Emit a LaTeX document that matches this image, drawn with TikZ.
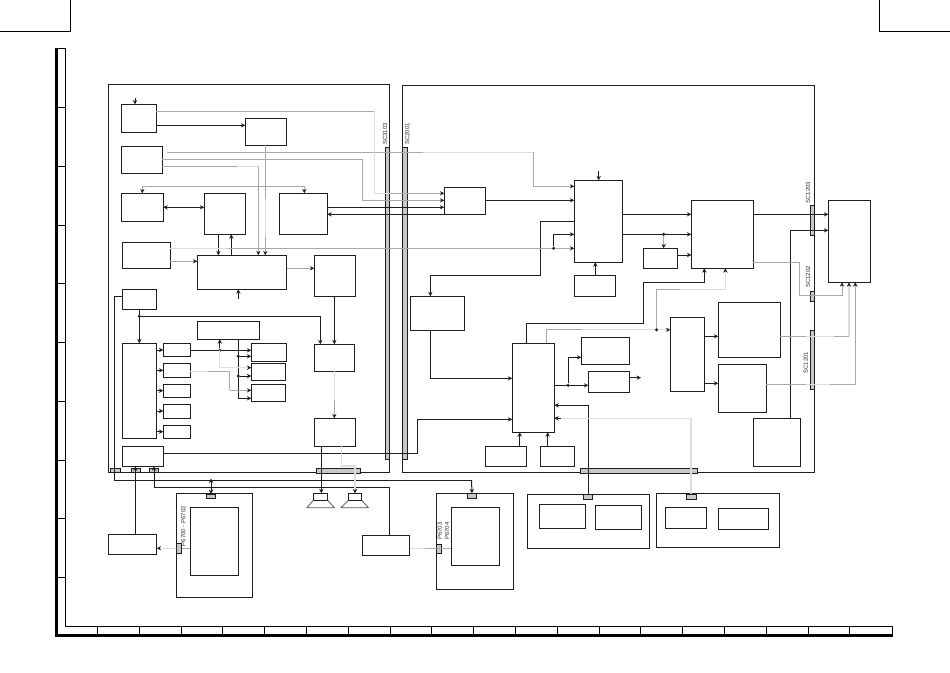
\documentclass[tikz,border=0pt]{standalone}
\usepackage{fontspec}
\setsansfont{Liberation Sans}
\usetikzlibrary{arrows.meta, positioning}
\definecolor{inkc}{HTML}{1E1E1E}
\definecolor{grayc}{HTML}{A8A8A8}
\definecolor{palec}{HTML}{DEDEDE}
\definecolor{tabc}{HTML}{C8C8C8}
\tikzset{
	blk/.style={draw=inkc, line width=1pt, inner sep=0pt, outer sep=0pt},
	tabbox/.style={blk, fill=tabc},
	jdot/.style={circle, fill=inkc, inner sep=0pt, minimum size=3.4pt},
	wire/.style={draw=inkc, line width=1pt},
	gwire/.style={draw=grayc, line width=1pt},
	pwire/.style={draw=palec, line width=1.2pt},
	tip/.style={-{Stealth[length=4.4pt,width=4.4pt,inkc]}},
	both/.style={{Stealth[length=4.4pt,width=4.4pt,inkc]}-{Stealth[length=4.4pt,width=4.4pt,inkc]}},
	sclabel/.style={rotate=90, text=black!80, inner sep=0pt, font=\sffamily\fontsize{6}{6}\selectfont}
}
% box by its two corners: name, x0, y0, x1, y1
\newcommand{\blkbox}[6][blk]{\node[#1, minimum width={(#5-#3)*1pt}, minimum height={(#6-#4)*1pt}] (#2) at ({(#3+#5)/2},{(#4+#6)/2}) {};}
\begin{document}
\begin{tikzpicture}[x=1pt,y=-1pt]
	\useasboundingbox (0,0) rectangle (950,672);
	
	% page corners and frame
	\draw[line width=0.9pt] (0,31.5) -- (70.5,31.5) -- (70.5,0);
	\draw[line width=0.9pt] (950,31.5) -- (879.3,31.5) -- (879.3,0);
	\fill (55,48) rectangle (58,636.8);
	\fill (55,634) rectangle (892.5,636.8);
	\draw[line width=0.8pt] (58,48) -- (65.7,48) -- (65.7,626.3) -- (892.5,626.3) -- (892.5,636);
	\foreach \y in {107.3,166,225,283.4,342,401,460,518.4,577}
		\draw[line width=0.8pt] (58,\y) -- (65.7,\y);
	\foreach \i in {0,...,18}
		\draw[line width=0.8pt] ({97.3+41.8*\i},626.3) -- ({97.3+41.8*\i},636);
	
	% two main boards
	\blkbox{lboard}{108.4}{84.5}{389.5}{472.2}
	\blkbox{rboard}{402.3}{85.3}{814.2}{472.3}
	
	% board connectors
	\blkbox[tabbox]{sc3103}{385.3}{147.3}{389.5}{459}
	\blkbox[tabbox]{sc2001}{402.3}{147.3}{407.3}{459.3}
	\blkbox[tabbox]{tabA}{110.3}{468.3}{120.3}{472.2}
	\blkbox[tabbox]{tabB}{131.3}{468.3}{140.7}{472.2}
	\blkbox[tabbox]{tabC}{149.3}{468.3}{158.3}{472.2}
	\blkbox[tabbox]{tabD}{316.3}{468.3}{360.3}{473.3}
	\blkbox[tabbox]{tabE}{580.3}{468.7}{697.3}{473.3}
	\blkbox[tabbox]{sc1203}{810.3}{205.3}{814.2}{235.3}
	\blkbox[tabbox]{sc1202}{810.3}{291.3}{814.2}{301.3}
	\blkbox[tabbox]{sc1201}{810.3}{330.3}{814.2}{389.3}
	
	\node[sclabel] at (385,134) {SC3103};
	\node[sclabel] at (407.3,134) {SC2001};
	\node[sclabel] at (808,192.5) {SC1203};
	\node[sclabel] at (808,277) {SC1202};
	\node[sclabel] at (805.7,362.7) {SC1201};
	
	% left board blocks
	\blkbox{inA}{121.3}{104.3}{156.3}{132.3}
	\blkbox{inB}{245.3}{118.3}{286.7}{145.3}
	\blkbox{inC}{121.3}{146.3}{162.3}{173.3}
	\blkbox{inD}{121.3}{193.3}{163.3}{221.3}
	\blkbox{inE}{204.3}{193.3}{245.3}{234.3}
	\blkbox{inF}{279.3}{193.3}{327.3}{234.3}
	\blkbox{inG}{122.3}{242.3}{170.3}{268.3}
	\blkbox{midA}{197.3}{255.3}{286.7}{289.3}
	\blkbox{midB}{314.3}{255.3}{355.3}{296.3}
	\blkbox{ctlA}{122.3}{289.3}{156.3}{309.3}
	\blkbox{ctlB}{122.3}{343.3}{156.3}{438.3}
	\blkbox{slotA}{163.3}{343.7}{190.3}{356.3}
	\blkbox{slotB}{163.3}{363.3}{190.3}{377.3}
	\blkbox{slotC}{163.3}{384.3}{190.3}{397.7}
	\blkbox{slotD}{163.3}{404.3}{190.3}{418.3}
	\blkbox{slotE}{163.3}{425.3}{190.3}{438.3}
	\blkbox{topbar}{197.3}{321.3}{259.3}{339.3}
	\blkbox{memA}{251.3}{343.7}{286.3}{361.3}
	\blkbox{memB}{251.3}{363.3}{285.3}{380.3}
	\blkbox{memC}{251.3}{384.3}{285.3}{401.3}
	\blkbox{ampA}{314.3}{344.3}{354.3}{371.3}
	\blkbox{ampB}{314.3}{418.3}{355.3}{446.3}
	\blkbox{pwrA}{122.3}{446.7}{163.3}{466.3}
	
	% right board blocks
	\blkbox{brg}{444.3}{187.3}{485.3}{214.3}
	\blkbox{mainA}{574.3}{180.3}{622.3}{262.3}
	\blkbox{mainB}{574.3}{275.3}{615.3}{296.3}
	\blkbox{procA}{691.3}{200.3}{753.3}{268.3}
	\blkbox{procB}{643.3}{248.3}{677.3}{268.3}
	\blkbox{outA}{828.3}{200.3}{870.3}{282.3}
	\blkbox{decA}{410.3}{296.3}{464.3}{330.3}
	\blkbox{decB}{512.3}{343.3}{554.3}{432.3}
	\blkbox{ramA}{581.3}{337.3}{629.3}{364.3}
	\blkbox{ramB}{588.3}{371.3}{629.3}{392.3}
	\blkbox{subA}{485.3}{446.3}{526.3}{466.3}
	\blkbox{subB}{540.3}{446.3}{574.3}{466.3}
	\blkbox{muxA}{670.3}{317.3}{704.7}{391.3}
	\blkbox{outB}{718.3}{302.3}{780.3}{357.3}
	\blkbox{outC}{718.3}{364.3}{766.3}{412.3}
	\blkbox{pwrB}{753.3}{418.3}{800.3}{466.3}
	
	% bottom units
	\blkbox{unitA}{108.3}{534.3}{156.7}{554.3}
	\blkbox{cardA}{176.3}{493.3}{252.7}{597.3}
	\blkbox{cardAin}{190.3}{507.3}{238.3}{575.3}
	\blkbox[tabbox]{cardAt}{206.3}{494}{215.7}{498.3}
	\blkbox[tabbox]{cardAs}{176.3}{543.3}{181.7}{553.3}
	\blkbox{unitB}{362.3}{535.3}{409.7}{555.3}
	\blkbox{cardB}{436.3}{493.3}{513.7}{589.3}
	\blkbox{cardBin}{451.3}{507.3}{499.7}{565.7}
	\blkbox[tabbox]{cardBt}{467.3}{493.3}{476.7}{498.3}
	\blkbox[tabbox]{cardBs}{436.3}{544.3}{441.7}{553.7}
	\blkbox{cardC}{527.3}{494.3}{649.7}{548.7}
	\blkbox{cardCa}{539.3}{504.3}{585.7}{528.3}
	\blkbox{cardCb}{595.3}{505.3}{641.7}{529.3}
	\blkbox[tabbox]{cardCt}{583.3}{494.3}{592.7}{499.3}
	\blkbox{cardD}{656.3}{493.3}{779.7}{547.7}
	\blkbox{cardDa}{665.3}{507.3}{706.3}{528.3}
	\blkbox{cardDb}{718.3}{508.3}{768.7}{529.3}
	\blkbox[tabbox]{cardDt}{686.3}{494.3}{696.3}{499.3}
	\node[sclabel] at (183.3,526) {P6700 - P6702};
	\node[sclabel] at (439.7,531) {P6703};
	\node[sclabel] at (447,531) {P6704};
	
	% speakers
	\blkbox{spkA}{313.3}{493.3}{327.7}{500.3}
	\blkbox{spkB}{348.3}{493.3}{361.7}{500.3}
	\draw[black!65, line width=0.8pt] (spkA.south west) -- (307,507.7) -- (334.3,507.7) -- (spkA.south east);
	\draw[black!65, line width=0.8pt] (spkB.south west) -- (341,507.7) -- (368.3,507.7) -- (spkB.south east);
	
	% junctions and free ends
	\node[jdot] (jctl) at (139.3,316.3) {};
	\node[jdot] (jbar) at (219.8,350.3) {};
	\node[jdot] (jmemA) at (238.3,356.3) {};
	\node[jdot] (jmemB) at (238.3,376) {};
	\node[jdot] (jmain) at (553.7,248.3) {};
	\node[jdot] (jproc) at (663.7,234.3) {};
	\node[jdot] (jmux) at (656.5,329.8) {};
	\node[jdot] (jram) at (568,385.3) {};
	\coordinate (inAin) at (135,98);
	\coordinate (midAin) at (238.3,299);
	\coordinate (mainAin) at (598.7,171);
	\coordinate (ramBout) at (641,377.7);
	\coordinate (cardAup) at (211,478.5);
	
	% left board black wires
	\draw[wire, tip] (inAin) -- (inAin |- inA.north);
	\draw[wire, tip] (inA.east |- 0,125.3) -- (inB.west |- 0,125.3);
	\draw[wire, both] (inD.east |- 0,207.3) -- (inE.west |- 0,207.3);
	\draw[wire, tip] (218.3,234.3) -- (218.3,255.3);
	\draw[wire, tip] (231.3,255.3) -- (231.3,234.3);
	\draw[wire, tip] (midAin) -- (midAin |- midA.south);
	\draw[wire, tip] (334.3,296.3) -- (334.3,344.3);
	\draw[wire, tip] (ctlA.south -| jctl) -- (ctlB.north -| jctl);
	\draw[wire, tip] (jctl) -- (320.3,316.3) -- (320.3,344.3);
	\draw[wire] (ctlA.west |- 0,296.3) -- (114.3,296.3) -- (114.3,480.3) -- (471.5,480.3);
	\draw[wire, tip] (471.5,480.3) -- (cardBt.north);
	\draw[wire, both] (cardAup) -- (211,494);
	\foreach \yy/\nn in {350/slotA,370.3/slotB,390.7/slotC,411/slotD,431.7/slotE}
		\draw[wire, tip] (ctlB.east |- 0,\yy) -- (\nn.west |- 0,\yy);
	\draw[wire, tip] (slotA.east |- 0,350.3) -- (memA.west |- 0,350.3);
	\draw[wire, tip] (jbar) -- (jbar |- topbar.south);
	\draw[wire] (238.3,339.3) -- (238.3,398.3);
	\draw[wire, tip] (238.3,398.3) -- (memC.west |- 0,398.3);
	\draw[wire, tip] (jmemA) -- (memA.west |- jmemA);
	\draw[wire, tip] (jmemB) -- (memB.west |- jmemB);
	\draw[wire, tip] (321.3,446.3) -- (321.3,493.3);
	\draw[wire, tip] (135.3,534.3) -- (135.3,466.3);
	\draw[wire, tip] (154,487.7) -- (154,466.3);
	\draw[wire] (154,487.7) -- (389.3,487.7) -- (389.3,535.3);
	\draw[wire, tip] (pwrA.east |- 0,453.3) -- (417.3,453.3) -- (417.3,419.3) -- (decB.west |- 0,419.3);
	\draw[wire, tip] (inF.east |- 0,207.3) -- (brg.west |- 0,207.3);
	\draw[wire, tip] (brg.west |- 0,214.3) -- (inF.east |- 0,214.3);
	
	% right board black wires
	\draw[wire, tip] (brg.east |- 0,200.3) -- (mainA.west |- 0,200.3);
	\draw[wire, tip] (mainAin) -- (mainAin |- mainA.north);
	\draw[wire, tip] (mainA.west |- 0,221.3) -- (540.3,221.3) -- (540.3,275.7) -- (430.3,275.7) -- (430.3,296.3);
	\draw[wire, tip] (jmain) -- (553.7,234.3) -- (mainA.west |- 0,234.3);
	\draw[wire, tip] (595.3,275.3) -- (595.3,262.3);
	\draw[wire, tip] (mainA.east |- 0,214.3) -- (procA.west |- 0,214.3);
	\draw[wire, tip] (mainA.east |- 0,234.3) -- (procA.west |- 0,234.3);
	\draw[gwire, tip] (jproc) -- (jproc |- procB.north);
	\draw[wire, tip] (procB.east |- 0,255) -- (procA.west |- 0,255);
	\draw[wire, tip] (procA.east |- 0,214.3) -- (outA.west |- 0,214.3);
	\draw[wire, tip] (790.3,418.3) -- (790.3,230.3) -- (outA.west |- 0,230.3);
	\draw[wire, tip] (526.3,343.3) -- (526.3,323.3) -- (643.3,323.3) -- (643.3,282.3) -- (704.3,282.3) -- (704.3,268.3);
	\draw[wire, tip] (decA.south -| 430.3,0) -- (430.3,378.3) -- (decB.west |- 0,378.3);
	\draw[wire, tip] (decB.east |- 0,385.3) -- (ramB.west |- 0,385.3);
	\draw[wire, tip] (jram) -- (568,357.3) -- (ramA.west |- 0,357.3);
	\draw[wire, tip] (ramB.east |- ramBout) -- (ramBout);
	\draw[wire, tip] (588.3,494.3) -- (588.3,405.3) -- (decB.east |- 0,405.3);
	\draw[wire, tip] (519.7,446.3) -- (519.7,432.3);
	\draw[wire, tip] (547.7,446.3) -- (547.7,432.3);
	\draw[wire, tip] (muxA.east |- 0,336.3) -- (outB.west |- 0,336.3);
	\draw[wire, tip] (muxA.east |- 0,383.3) -- (outC.west |- 0,383.3);
	
	% grey and pale signal wires
	\draw[gwire] (167,152.3) -- (423,152.3);
	\draw[pwire] (423,152.3) -- (533.3,152.3);
	\draw[gwire, tip] (533.3,152.3) -- (533.3,186.3) -- (mainA.west |- 0,186.3);
	\draw[gwire] (inA.east |- 0,111.3) -- (374.7,111.3);
	\draw[pwire] (374.7,111.3) -- (374.7,193.3) -- (390,193.3);
	\draw[gwire, tip] (390,193.3) -- (brg.west |- 0,193.3);
	\draw[gwire, tip] (inC.east |- 0,159.3) -- (362.3,159.3) -- (362.3,200.3) -- (brg.west |- 0,200.3);
	\draw[gwire] (inC.east |- 0,166.3) -- (237,166.3);
	\draw[pwire] (237,166.3) -- (258.3,166.3);
	\draw[gwire, tip] (258.3,166.3) -- (258.3,255.3);
	\draw[gwire] (265.3,145.3) -- (265.3,199);
	\draw[pwire] (265.3,199) -- (265.3,237);
	\draw[gwire, tip] (265.3,237) -- (265.3,255.3);
	\draw[gwire, both] (142.3,193.3) -- (142.3,186.3) -- (304.3,186.3) -- (304.3,193.3);
	\draw[pwire] (inG.east |- 0,248.3) -- (228,248.3);
	\draw[gwire] (228,248.3) -- (jmain);
	\draw[gwire, tip] (jmain) -- (mainA.west |- 0,248.3);
	\draw[gwire, tip] (inG.east |- 0,261.3) -- (midA.west |- 0,261.3);
	\draw[gwire, tip] (midA.east |- 0,268.3) -- (midB.west |- 0,268.3);
	\draw[pwire] (219.3,350.3) -- (219.3,367.7);
	\draw[pwire, tip] (219.3,367.7) -- (memB.west |- 0,367.7);
	\draw[pwire] (slotB.east |- 0,371.7) -- (208,371.7);
	\draw[gwire] (208,371.7) -- (229.7,371.7) -- (229.7,390.3);
	\draw[gwire, tip] (229.7,390.3) -- (memC.west |- 0,390.3);
	\draw[pwire] (334.3,371.3) -- (334.3,400);
	\draw[gwire, tip] (334.3,400) -- (334.3,418.3);
	\draw[pwire] (341.7,446.3) -- (341.7,466) -- (355,466) -- (355,488);
	\draw[gwire, tip] (355,488) -- (355,493.3);
	\draw[pwire, tip] (cardAs.west) -- (unitA.east |- cardAs.west);
	\draw[gwire] (cardAs.east) -- (cardAin.west |- cardAs.east);
	\draw[pwire] (unitB.east |- 0,548.3) -- (425,548.3);
	\draw[gwire] (425,548.3) -- (cardBin.west |- 0,548.3);
	\draw[gwire] (546.3,343.3) -- (546.3,329.8) -- (582,329.8);
	\draw[pwire] (582,329.8) -- (jmux);
	\draw[pwire, tip] (jmux) -- (muxA.west |- jmux);
	\draw[gwire] (jmux) -- (656.5,289.3) -- (680,289.3);
	\draw[pwire, tip] (680,289.3) -- (725.3,289.3) -- (725.3,268.3);
	\draw[gwire] (procA.east |- 0,262.3) -- (799.3,262.3) -- (799.3,295.3);
	\draw[gwire, tip] (799.3,295.3) -- (842,295.3) -- (842,282.3);
	\draw[gwire] (outB.east |- 0,336.3) -- (806,336.3);
	\draw[pwire] (806,336.3) -- (834,336.3);
	\draw[gwire] (834,336.3) -- (849,336.3);
	\draw[pwire, tip] (849,336.3) -- (849,282.3);
	\draw[gwire] (outC.east |- 0,384.3) -- (806,384.3);
	\draw[pwire] (806,384.3) -- (830,384.3);
	\draw[gwire, tip] (830,384.3) -- (855.3,384.3) -- (855.3,282.3);
	\draw[pwire] (691,494.3) -- (691,418.3) -- (561,418.3);
	\draw[wire, tip] (561,418.3) -- (decB.east |- 0,418.3);
\end{tikzpicture}
\end{document}
